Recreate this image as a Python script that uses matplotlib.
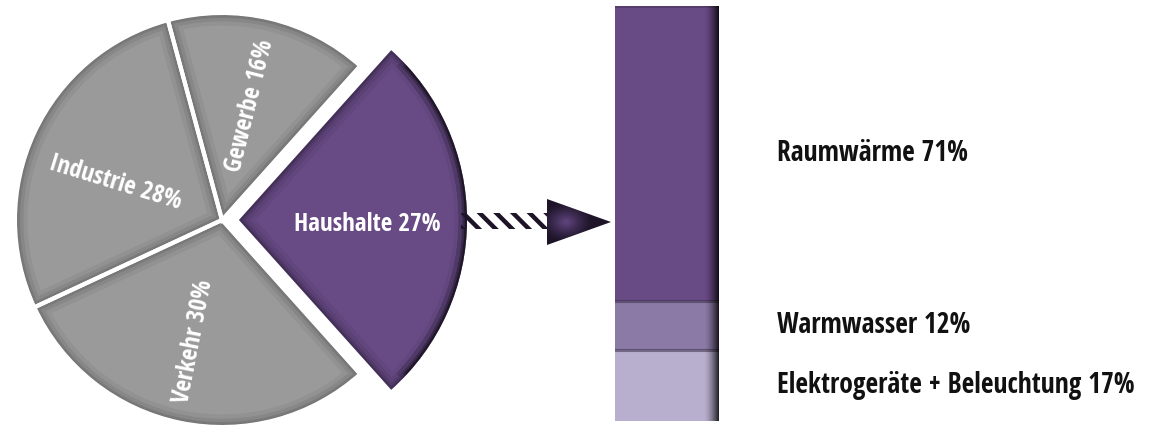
import numpy as np
import matplotlib
matplotlib.use('Agg')
import matplotlib.pyplot as plt
from matplotlib import font_manager
from matplotlib.patches import Wedge, Polygon, Rectangle
from matplotlib.transforms import blended_transform_factory

# Endenergieverbrauch nach Sektoren (Haushalte zuerst, gegen den Uhrzeigersinn)
sectors = ['Haushalte', 'Gewerbe', 'Industrie', 'Verkehr']
sector_shares = [27, 16, 28, 30]

# Aufteilung der Haushalte
uses = ['Raumwärme', 'Warmwasser', 'Elektrogeräte + Beleuchtung']
use_shares = [71, 12, 17]

W, H = 1149, 425
GREY = '#9a9a9a'
PURPLE = '#684a85'
DARK = '#1e1428'
use_colors = ['#684a85', '#8c7aa6', '#b8aecd']

names = {f.name for f in font_manager.fontManager.ttflist}
FONT = next((f for f in ['Open Sans Condensed', 'PT Sans Narrow', 'Fira Sans Condensed',
                         'Encode Sans Condensed', 'Asap Condensed', 'Archivo Narrow']
             if f in names), 'DejaVu Sans')
plt.rcParams['font.family'] = [FONT, 'DejaVu Sans']
plt.rcParams['hatch.linewidth'] = 3.2


def inner_shadow(ax, w, layers=((18, 0.05), (12, 0.07), (7, 0.1), (3.5, 0.16))):
    # dark halo just inside the wedge border
    for lw, a in layers:
        s = Wedge(w.center, w.r, w.theta1, w.theta2, facecolor='none',
                  edgecolor='black', lw=lw, alpha=a, zorder=2)
        ax.add_patch(s)
        s.set_clip_path(w)


fig = plt.figure(figsize=(W / 100, H / 100), dpi=100)
ax = fig.add_axes([0, 0, 1, 1])

# pie in pixel units; the households slice is pulled out and drawn larger
cx, cy, R = 222, 205, 207
total = sum(sector_shares)
start = -180 * sector_shares[0] / total
explode = [17, 0, 0, 0]
wedges, _ = ax.pie(sector_shares, colors=[PURPLE, GREY, GREY, GREY],
                   startangle=start, explode=explode, center=(cx, cy),
                   radius=R, wedgeprops=dict(linewidth=0), frame=True)
wedges[0].set_radius(228)

for w in wedges:
    inner_shadow(ax, w)
# extra shade on the outer arc of the highlighted slice
hw = wedges[0]
for lw, a in ((12, 0.12), (6, 0.2), (3, 0.3)):
    arc = Wedge(hw.center, hw.r, hw.theta1 + 6, hw.theta2 - 6, width=0.001,
                facecolor='none', edgecolor='black', lw=lw, alpha=a, zorder=2)
    ax.add_patch(arc)
    arc.set_clip_path(hw)

# white separators between the grey slices
for w in wedges[1:]:
    ax.add_patch(Wedge(w.center, w.r, w.theta1, w.theta2, facecolor='none',
                       edgecolor='white', lw=3, zorder=3))

# slice labels: (angle, distance from slice apex, rotation)
label_layout = [(-2, 128, 0), (76, 118, 76), (161, 113, -17), (257, 125, 79)]
for w, name, share, (ang, r, rot) in zip(wedges, sectors, sector_shares, label_layout):
    x = w.center[0] + r * np.cos(np.radians(ang))
    y = w.center[1] + r * np.sin(np.radians(ang))
    ax.text(x, y, f'{name} {share}%', color='white', fontsize=18,
            fontweight='bold', fontstyle='normal', rotation=rot,
            ha='center', va='center', rotation_mode='anchor', zorder=5)

# arrow towards the bar: hatched stem and shaded head
ax.add_patch(Rectangle((461, 196), 86, 16, facecolor='none', edgecolor=DARK,
                       lw=0, hatch='\\\\', zorder=4))
tri = Polygon([(547, 226), (547, 180), (611, 203)], closed=True,
              facecolor=DARK, edgecolor='none', zorder=4)
ax.add_patch(tri)
gx, gy = np.meshgrid(np.linspace(547, 611, 80), np.linspace(180, 226, 60))
d = np.hypot((gx - 566) / 26, (gy - 203) / 20)
glow = np.zeros(gx.shape + (4,))
glow[..., :3] = matplotlib.colors.to_rgb('#6a4c8c')
glow[..., 3] = np.clip(1 - d, 0, 1) ** 1.2 * 0.9
im = ax.imshow(glow, extent=(547, 611, 180, 226), origin='lower',
               interpolation='bilinear', zorder=4.5)
im.set_clip_path(tri)

ax.set_xlim(0, W)
ax.set_ylim(0, H)
ax.set_aspect('equal')
ax.axis('off')

# stacked bar for the households
bax = fig.add_axes([615 / W, 4 / H, 104 / W, 415 / H])
bottoms = np.concatenate([[0], np.cumsum(use_shares)[:-1]])
bax.bar(0, use_shares, bottom=bottoms, width=1, color=use_colors, linewidth=0)

# segment top shadows and darker right edge
for b in bottoms[1:]:
    bax.axhline(b, color='#3a2d48', lw=2.2, alpha=0.55)
bax.axhline(0.3, color='#3a2d48', lw=1.5, alpha=0.4)
edge = np.zeros((1, 60, 4))
edge[..., 3] = np.linspace(0, 1, 60) ** 1.6 * 0.85
bax.imshow(edge, extent=(0.36, 0.5, 100, 0), aspect='auto',
           interpolation='bilinear', zorder=3)
bax.set_xlim(-0.5, 0.5)
bax.set_ylim(100, 0)
bax.axis('off')

# segment labels to the right of the bar
tr = blended_transform_factory(fig.transFigure, bax.transData)
for name, share, b in zip(uses, use_shares, bottoms):
    fig.text(777 / W, b + share / 2, f'{name} {share}%', transform=tr,
             fontsize=19.8, fontweight='bold', color='#111111',
             ha='left', va='center')

fig.savefig('out.png', dpi=100)
